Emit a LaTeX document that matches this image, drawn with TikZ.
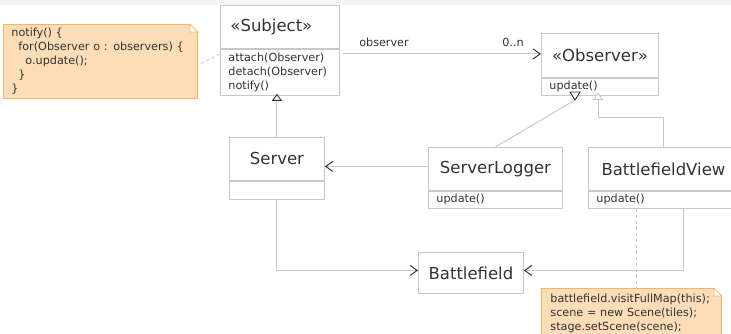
\documentclass[tikz,border=0pt]{standalone}
\usepackage{fontspec}
\setmainfont{DejaVu Sans}
\usetikzlibrary{arrows.meta,calc}
\definecolor{ink}{HTML}{333333}
\definecolor{edge}{HTML}{C8C8C8}
\definecolor{notefill}{HTML}{FDDCB8}
\definecolor{noteline}{HTML}{F4B469}
\definecolor{band}{HTML}{F4F4F4}
\begin{document}
\begin{tikzpicture}[x=1pt,y=-1pt,
  every node/.style={text=ink, inner sep=0pt},
  big/.style={font=\fontsize{16.5}{19}\selectfont},
  small/.style={font=\fontsize{11.2}{14}\selectfont},
  title/.style 2 args={draw=edge, line width=0.9pt, anchor=north west, big,
    align=center, minimum width=#1, minimum height=#2},
  ops/.style 2 args={draw=edge, line width=0.9pt, anchor=north west, small,
    align=left, inner xsep=8pt, text width=#1-16pt, minimum height=#2},
  note/.style 2 args={draw=noteline, fill=notefill, line width=0.9pt,
    anchor=north west, small, align=left, inner xsep=8pt,
    text width=#1-16pt, minimum height=#2},
  link/.style={draw=edge, line width=1pt},
  barb/.style={link, -{Straight Barb[length=7pt,width=10pt,line width=1pt,color=ink]}},
  hollow/.style={link, -{Triangle[length=7pt,width=10pt,line width=0.9pt,color=ink,fill=white]}},
  hollowlight/.style={link, -{Triangle[length=8pt,width=10pt,line width=0.9pt,color=edge,fill=white]}},
  notelink/.style={draw=edge, line width=0.9pt, dash pattern=on 3pt off 3pt},
  fold/.style={draw=noteline, fill=white, line width=0.8pt}
]
\useasboundingbox (0,0) rectangle (731,334);
\clip (0,0) rectangle (731,334);
\fill[white] (0,0) rectangle (731,334);
\fill[band] (0,0) rectangle (731,5);

% classes
\node[title={119pt}{43pt}, align=left, text width=99pt, inner xsep=10pt] (subjT) at (220,5) {«Subject»};
\node[ops={119pt}{46pt}] (subjM) at (subjT.south west) {attach(Observer)\\detach(Observer)\\notify()};

\node[title={117pt}{44pt}] (obsT) at (541,33) {«Observer»};
\node[ops={117pt}{17pt}] (obsM) at (obsT.south west) {update()};

\node[title={95pt}{43pt}] (srvT) at (229,137) {Server};
\node[ops={95pt}{18pt}] (srvM) at (srvT.south west) {};

\node[title={134pt}{43pt}] (slT) at (428,147) {ServerLogger};
\node[ops={134pt}{17pt}] (slM) at (slT.south west) {update()};

\node[title={150pt}{43pt}] (bvT) at (588,147) {BattlefieldView};
\node[ops={150pt}{17pt}] (bvM) at (bvT.south west) {update()};

\node[title={105pt}{41pt}] (bf) at (418,252) {Battlefield};

% notes
\node[note={194pt}{74pt}] (n1) at (3,24)
  {notify() \{\\
   \hspace*{7pt}for(Observer o : observers) \{\\
   \hspace*{14pt}o.update();\\
   \hspace*{7pt}\}\\
   \}};
\fill[white] ([xshift=-8pt]n1.north east) -- ([shift={(1pt,1pt)}]n1.north east) -- ([yshift=-8pt]n1.north east) -- cycle;
\path[fold] ([xshift=-8pt]n1.north east) -- ([shift={(-8pt,-8pt)}]n1.north east) -- ([yshift=-8pt]n1.north east) -- cycle;

\node[note={180pt}{49pt}, inner xsep=9pt, text width=162pt] (n2) at (541,288)
  {battlefield.visitFullMap(this);\\
   scene = new Scene(tiles);\\
   stage.setScene(scene);};
\fill[white] ([xshift=-8pt]n2.north east) -- ([shift={(1pt,1pt)}]n2.north east) -- ([yshift=-8pt]n2.north east) -- cycle;
\path[fold] ([xshift=-8pt]n2.north east) -- ([shift={(-8pt,-8pt)}]n2.north east) -- ([yshift=-8pt]n2.north east) -- cycle;

% association Subject -> Observer
\coordinate (assocStart) at ([shift={(3pt,-5pt)}]subjM.north east);
\draw[barb] (assocStart) -- (assocStart -| obsT.west);
\node[small] (roleName) at (384,42) {observer};
\node[small] (roleMult) at (513,42) {0..n};

% Server extends Subject
\draw[hollow, shorten >=-2pt] (srvT.north) -- (srvT.north |- subjM.south);

% ServerLogger realizes Observer (inverted head)
\coordinate (realA) at (575,100);
\draw[link] (slT.north) -- (realA);
\draw[line width=0.9pt, draw=ink, fill=white] ($(realA)+(-5,-8)$) -- ($(realA)+(5,-8)$) -- (realA) -- cycle;

% BattlefieldView realizes Observer
\coordinate (realB) at (598,92);
\draw[hollowlight] (bvT.north) -- (bvT.north |- 0,118) -| (realB);

% uses
\draw[barb] ([yshift=2.5pt]slT.west) -- ([yshift=2.5pt]slT.west -| srvT.east);
\draw[barb] (srvM.south) |- ([yshift=2.5pt]bf.west);
\draw[barb] ([xshift=20pt]bvM.south) |- ([yshift=2.5pt]bf.east);

% note anchors
\draw[notelink] ([shift={(3pt,-2pt)}]n1.east) -- ([yshift=-5pt]subjM.north west);
\draw[notelink] ([xshift=-27pt]bvM.south) -- ([xshift=-27pt]bvM.south |- n2.north);
\end{tikzpicture}
\end{document}
